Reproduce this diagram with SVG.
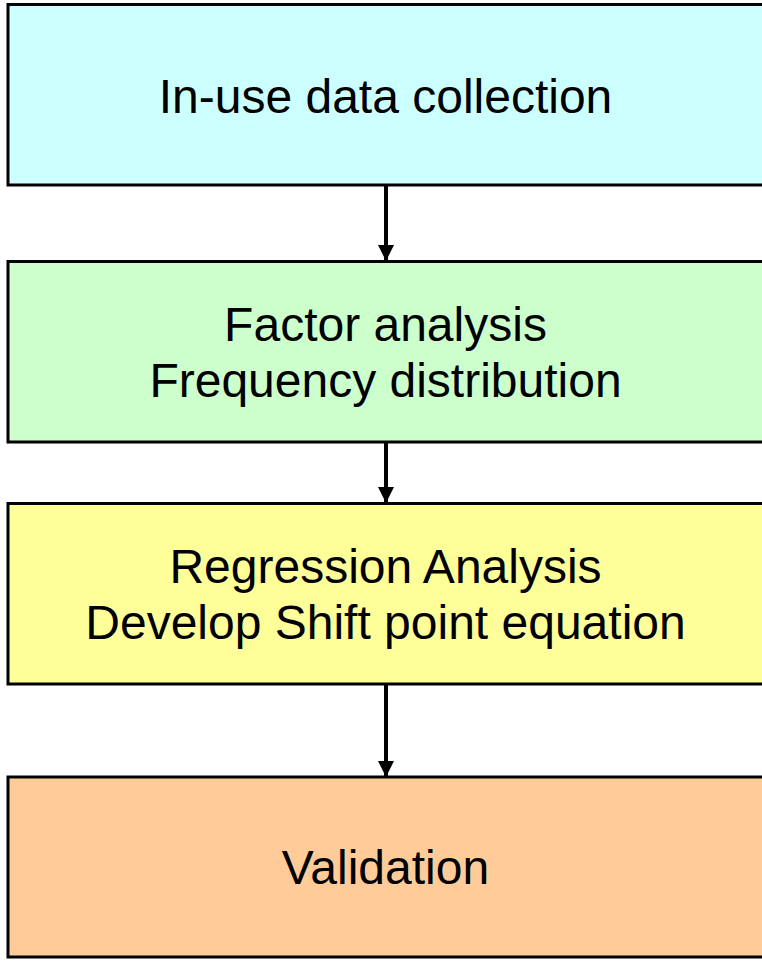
<svg xmlns="http://www.w3.org/2000/svg" width="762" height="964" viewBox="0 0 762 964">
<defs>
<style>
.box{stroke:#000;stroke-width:3}
.t{font-family:"Liberation Sans",Arial,sans-serif;font-size:48px;fill:#000;text-anchor:middle}
.c{stroke:#000;stroke-width:4;fill:none}
</style>
<marker id="ah" viewBox="0 0 16 16" refX="16" refY="8" markerUnits="userSpaceOnUse" markerWidth="16" markerHeight="16" orient="auto">
<path d="M0,0 L16,8 L0,16 Z" fill="#000"/>
</marker>
</defs>
<rect width="762" height="964" fill="#fff"/>
<g id="connectors">
<line class="c" x1="386" y1="186" x2="386" y2="261" marker-end="url(#ah)"/>
<line class="c" x1="386" y1="443" x2="386" y2="503" marker-end="url(#ah)"/>
<line class="c" x1="386" y1="685" x2="386" y2="777" marker-end="url(#ah)"/>
</g>
<g id="n1">
<rect class="box" x="8" y="4.5" width="770" height="180.5" fill="#CCFFFF"/>
<text class="t" x="385.5" y="113">In-use data collection</text>
</g>
<g id="n2">
<rect class="box" x="8" y="261.5" width="770" height="180.5" fill="#CCFFCC"/>
<text class="t" x="385.5" y="341">Factor analysis</text>
<text class="t" x="385.5" y="397">Frequency distribution</text>
</g>
<g id="n3">
<rect class="box" x="8" y="503.5" width="770" height="180.5" fill="#FFFF99"/>
<text class="t" x="385.5" y="583">Regression Analysis</text>
<text class="t" x="385.5" y="639">Develop Shift point equation</text>
</g>
<g id="n4">
<rect class="box" x="8" y="777" width="770" height="180" fill="#FFCC99"/>
<text class="t" x="385.5" y="884">Validation</text>
</g>
</svg>
